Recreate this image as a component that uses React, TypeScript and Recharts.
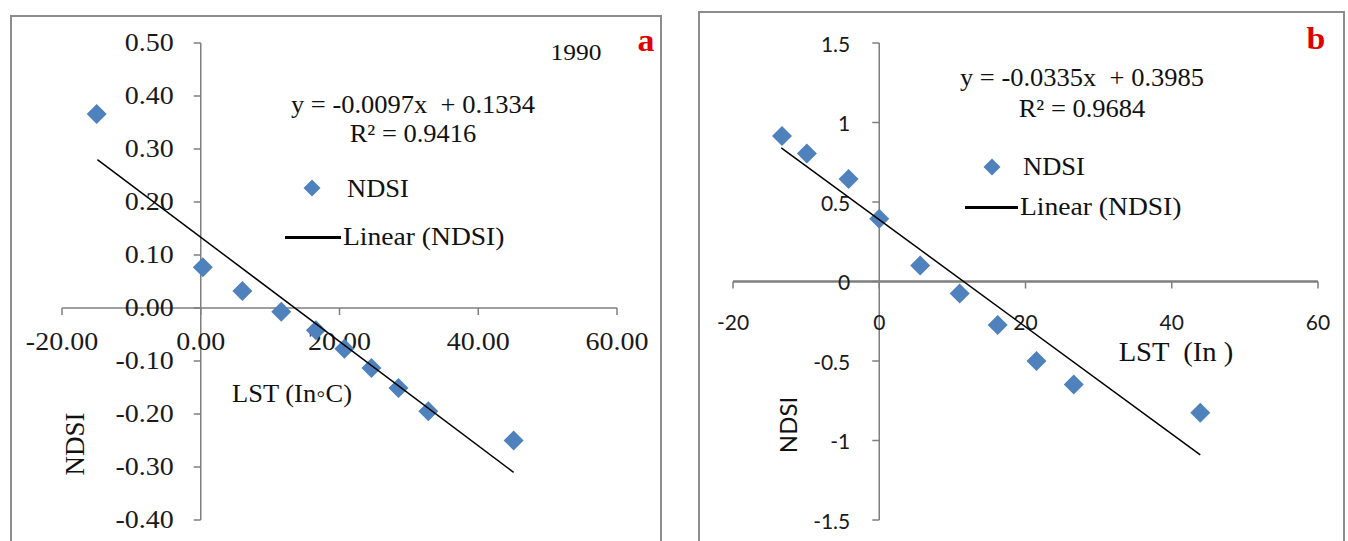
import React from 'react'
import { ReferenceDot, ReferenceLine, Scatter, ScatterChart, XAxis, YAxis } from 'recharts'

// panel a (1990)
const lstA = [-15.0, 0.3, 6.0, 11.6, 16.6, 20.7, 24.6, 28.5, 32.8, 45.1]
const ndsiA = [0.366, 0.077, 0.032, -0.007, -0.042, -0.077, -0.113, -0.151, -0.195, -0.25]
const trendA = [
  { x: -14.9, y: 0.28 },
  { x: 45.1, y: -0.31 },
]
const xTicksA = [-20, 0, 20, 40, 60]
const yTicksA = [0.5, 0.4, 0.3, 0.2, 0.1, 0, -0.1, -0.2, -0.3, -0.4]

// panel b
const lstB = [-13.3, -9.9, -4.2, 0, 5.6, 11.0, 16.2, 21.5, 26.6, 43.9]
const ndsiB = [0.915, 0.805, 0.645, 0.395, 0.1, -0.075, -0.273, -0.5, -0.648, -0.825]
const trendB = [
  { x: -13.4, y: 0.84 },
  { x: 43.9, y: -1.09 },
]
const xTicksB = [-20, 0, 20, 40, 60]
const yTicksB = [1.5, 1, 0.5, 0, -0.5, -1, -1.5]

const BLUE = '#4F81BD'
const AXIS = '#7f7f7f'
const SERIF = '"Liberation Serif", "Times New Roman", serif'
const SANS = 'Lato, "Open Sans", sans-serif'

const toPts = (xs: number[], ys: number[]) => xs.map((x, i) => ({ x, y: ys[i] }))

function Diamond(props: any) {
  const { cx, cy } = props
  const r = 10
  return (
    <polygon
      points={`${cx},${cy - r} ${cx + r},${cy} ${cx},${cy + r} ${cx - r},${cy}`}
      fill={BLUE}
    />
  )
}

const NoDot = () => <g />

type TickStyle = { font: string; size: number; xDy: number; yDx: number; stretch: number }

const xTickShape = (label: string, st: TickStyle) => (p: any) => (
  <g>
    <line x1={p.cx} y1={p.cy} x2={p.cx} y2={p.cy + 7} stroke={AXIS} strokeWidth={1.5} />
    <text
      transform={`translate(${p.cx},${p.cy + st.xDy}) scale(${st.stretch},1)`}
      textAnchor="middle"
      dominantBaseline="central"
      fontFamily={st.font}
      fontSize={st.size}
      fill="#1a1a1a"
    >
      {label}
    </text>
  </g>
)

const yTickShape = (label: string, st: TickStyle) => (p: any) => (
  <g>
    <line x1={p.cx - 7} y1={p.cy} x2={p.cx} y2={p.cy} stroke={AXIS} strokeWidth={1.5} />
    <text
      transform={`translate(${p.cx - st.yDx},${p.cy}) scale(${st.stretch},1)`}
      textAnchor="end"
      dominantBaseline="central"
      fontFamily={st.font}
      fontSize={st.size}
      fill="#1a1a1a"
    >
      {label}
    </text>
  </g>
)

type PanelProps = {
  width: number
  points: { x: number; y: number }[]
  trend: { x: number; y: number }[]
  xTicks: number[]
  yTicks: number[]
  fmt: (v: number) => string
  margin: { left: number; right: number; top: number; bottom: number }
  tick: TickStyle
  xAxisWidth: number
}

function Panel({ width, points, trend, xTicks, yTicks, fmt, margin, tick, xAxisWidth }: PanelProps) {
  const yMin = yTicks[yTicks.length - 1]
  const yMax = yTicks[0]
  return (
    <ScatterChart width={width} height={541} margin={margin}>
      <XAxis
        type="number"
        dataKey="x"
        domain={[xTicks[0], xTicks[xTicks.length - 1]]}
        ticks={xTicks}
        allowDataOverflow
        hide
      />
      <YAxis type="number" dataKey="y" domain={[yMin, yMax]} ticks={yTicks} allowDataOverflow hide />
      <ReferenceLine y={0} stroke={AXIS} strokeWidth={xAxisWidth} />
      <ReferenceLine x={0} stroke={AXIS} strokeWidth={1.5} />
      {xTicks.map((v) => (
        <ReferenceDot key={'x' + v} x={v} y={0} shape={xTickShape(fmt(v), tick)} />
      ))}
      {yTicks.map((v) => (
        <ReferenceDot key={'y' + v} x={0} y={v} shape={yTickShape(fmt(v), tick)} />
      ))}
      <Scatter data={points} shape={<Diamond />} isAnimationActive={false} />
      <Scatter
        data={trend}
        shape={<NoDot />}
        line={{ stroke: '#000', strokeWidth: 1.5 }}
        isAnimationActive={false}
      />
    </ScatterChart>
  )
}

const abs = (left: number, top: number, extra: React.CSSProperties = {}): React.CSSProperties => ({
  position: 'absolute',
  left,
  top,
  transform: 'translate(-50%, -50%) scaleX(1.06)',
  whiteSpace: 'pre',
  fontFamily: SERIF,
  fontSize: 25,
  color: '#111',
  lineHeight: 1,
  ...extra,
})

const leftText = (left: number, top: number, extra: React.CSSProperties = {}): React.CSSProperties => ({
  ...abs(left, top, extra),
  transform: 'translate(0, -50%) scaleX(1.06)',
  transformOrigin: 'left center',
})

function LegendDiamond({ x, y }: { x: number; y: number }) {
  return (
    <div
      style={{
        position: 'absolute',
        left: x - 6,
        top: y - 6,
        width: 12,
        height: 12,
        background: BLUE,
        transform: 'rotate(45deg)',
      }}
    />
  )
}

function LegendLine({ x1, x2, y }: { x1: number; x2: number; y: number }) {
  return (
    <div style={{ position: 'absolute', left: x1, top: y - 1.5, width: x2 - x1, height: 3, background: '#000' }} />
  )
}

export default function App() {
  return (
    <div style={{ position: 'absolute', left: 0, top: 0, width: 1348, height: 541, background: '#fff', overflow: 'hidden' }}>
      {/* frames */}
      <div style={{ position: 'absolute', left: 10, top: 15, width: 652, height: 560, border: '2px solid #8c8c8c', boxSizing: 'border-box' }} />
      <div style={{ position: 'absolute', left: 698, top: 11, width: 647, height: 560, border: '2px solid #8c8c8c', boxSizing: 'border-box' }} />

      {/* panel a */}
      <div style={{ position: 'absolute', left: 0, top: 0 }}>
        <Panel
          width={680}
          points={toPts(lstA, ndsiA)}
          trend={trendA}
          xTicks={xTicksA}
          yTicks={yTicksA}
          fmt={(v) => v.toFixed(2)}
          margin={{ left: 62, right: 63, top: 43, bottom: 21 }}
          tick={{ font: SERIF, size: 25, xDy: 34, yDx: 27, stretch: 1.12 }}
          xAxisWidth={1.5}
        />
      </div>
      <div style={abs(576, 52, { fontSize: 24 })}>1990</div>
      <div style={abs(646, 40, { fontSize: 32, fontWeight: 700, color: '#e00000' })}>a</div>
      <div style={abs(413, 104)}>{'y = -0.0097x  + 0.1334'}</div>
      <div style={abs(413, 133)}>R² = 0.9416</div>
      <LegendDiamond x={312} y={188} />
      <div style={leftText(347, 188)}>NDSI</div>
      <LegendLine x1={285} x2={341} y={237} />
      <div style={leftText(343, 237, { fontSize: 26 })}>Linear (NDSI)</div>
      <div style={abs(292, 393, { fontSize: 25 })}>LST (In◦C)</div>
      <div style={abs(75, 444, { fontSize: 27, transform: 'translate(-50%, -50%) rotate(-90deg)' })}>NDSI</div>

      {/* panel b */}
      <div style={{ position: 'absolute', left: 680, top: 0 }}>
        <Panel
          width={668}
          points={toPts(lstB, ndsiB)}
          trend={trendB}
          xTicks={xTicksB}
          yTicks={yTicksB}
          fmt={(v) => String(v)}
          margin={{ left: 53, right: 30, top: 43, bottom: 21 }}
          tick={{ font: SANS, size: 21, xDy: 40, yDx: 29, stretch: 1 }}
          xAxisWidth={2.5}
        />
      </div>
      <div style={abs(1316, 38, { fontSize: 32, fontWeight: 700, color: '#e00000' })}>b</div>
      <div style={abs(1082, 77)}>{'y = -0.0335x  + 0.3985'}</div>
      <div style={abs(1082, 108)}>R² = 0.9684</div>
      <LegendDiamond x={992} y={167} />
      <div style={leftText(1023, 166)}>NDSI</div>
      <LegendLine x1={965} x2={1018} y={207} />
      <div style={leftText(1020, 207, { fontSize: 26 })}>Linear (NDSI)</div>
      <div style={abs(1176, 352, { fontSize: 27 })}>{'LST  (In )'}</div>
      <div style={abs(788, 425, { fontFamily: SANS, fontSize: 24, transform: 'translate(-50%, -50%) rotate(-90deg)' })}>NDSI</div>
    </div>
  )
}
